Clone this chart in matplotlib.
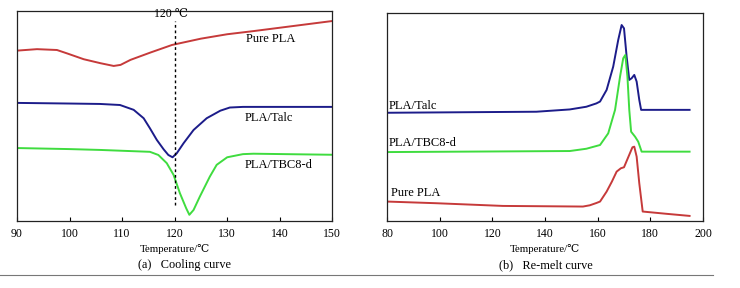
import numpy as np
import matplotlib.pyplot as plt
from matplotlib.lines import Line2D

plt.rcParams['font.family'] = ['Liberation Serif', 'DejaVu Serif', 'DejaVu Sans']

# (a) cooling curves
cool_pla_T = [90, 93.8, 97.6, 99.5, 102.7, 105.9, 108.4, 109.7, 111.6, 115.4, 119.5, 125, 130, 135, 140, 145, 150]
cool_pla_y = [81.1, 81.8, 81.4, 79.8, 77.0, 75.1, 73.8, 74.3, 76.7, 80.2, 83.8, 86.8, 88.9, 90.4, 92.0, 93.6, 95.2]

cool_talc_T = [90, 100, 105.8, 109.6, 112.2, 114.1, 115.3, 116.6, 117.9, 118.8, 119.6, 120.4, 121.7, 123.6, 126.1, 128.7, 130.5, 133, 150]
cool_talc_y = [56.2, 55.9, 55.7, 55.2, 52.9, 48.9, 44.1, 38.6, 34.1, 31.4, 30.3, 32.2, 37.0, 43.3, 48.9, 52.5, 54.0, 54.3, 54.3]

cool_tbc_T = [90, 100, 105.8, 115.3, 116.9, 118.5, 119.8, 121.0, 122.2, 122.8, 123.6, 124.8, 126.7, 128.0, 130, 133, 135, 150]
cool_tbc_y = [34.7, 34.2, 33.8, 32.9, 31.4, 27.5, 21.9, 13.2, 6.0, 2.9, 5.2, 11.6, 21.1, 26.7, 30.3, 31.8, 32.0, 31.5]

# (b) re-melt curves
melt_talc_T = [80, 136.7, 149.4, 155.7, 159.5, 160.9, 163.4, 165.9, 167.8, 169.1, 170.0, 171.0, 172.0, 172.9, 173.9, 174.8, 175.8, 176.5, 194.9]
melt_talc_y = [52.0, 52.5, 53.6, 54.9, 56.5, 57.4, 63.0, 74.2, 87.0, 94.2, 92.6, 79.0, 67.8, 68.6, 70.2, 67.0, 58.2, 53.4, 53.4]

melt_tbc_T = [80, 149.4, 155.7, 160.9, 164.0, 166.6, 168.5, 169.7, 170.5, 171.3, 172.0, 172.7, 174.2, 175.4, 176.7, 194.9]
melt_tbc_y = [33.1, 33.6, 34.7, 36.5, 42.1, 53.4, 69.4, 78.2, 79.8, 69.4, 53.4, 42.9, 40.5, 38.1, 33.3, 33.3]

melt_pla_T = [80, 98.7, 124.0, 154.4, 157.0, 159.5, 160.9, 163.4, 165.4, 167.2, 168.8, 170.0, 171.7, 173.2, 173.9, 174.8, 175.8, 177.1, 186.2, 194.9]
melt_pla_y = [9.3, 8.5, 7.2, 6.9, 7.5, 8.6, 9.3, 14.1, 18.9, 23.7, 25.3, 25.8, 30.9, 35.4, 35.7, 30.9, 18.1, 4.5, 3.4, 2.4]

red = '#c63a3a'
blue = '#1c1c8a'
green = '#3fdc3f'

fig = plt.figure(figsize=(7.4, 2.88), dpi=100)
ax1 = fig.add_axes([0.023, 0.233, 0.426, 0.729])
ax2 = fig.add_axes([0.523, 0.233, 0.427, 0.722])

ax1.plot(cool_pla_T, cool_pla_y, color=red, lw=1.4)
ax1.plot(cool_talc_T, cool_talc_y, color=blue, lw=1.4)
ax1.plot(cool_tbc_T, cool_tbc_y, color=green, lw=1.4)
ax1.plot([120, 120], [7.6, 95], color='black', lw=1.0, ls=(0, (2, 2)))
ax1.text(119.3, 98.5, '120 ℃', ha='center', va='center', fontsize=8.5)
ax1.text(133.6, 86.5, 'Pure PLA', va='center', fontsize=9)
ax1.text(133.4, 49, 'PLA/Talc', va='center', fontsize=9)
ax1.text(133.4, 26.8, 'PLA/TBC8-d', va='center', fontsize=9)
ax1.set_xlim(90, 150)
ax1.set_ylim(0, 100)
ax1.set_xticks([90, 100, 110, 120, 130, 140, 150])
ax1.set_xlabel('Temperature/℃', fontsize=7.8, labelpad=3)

ax2.plot(melt_talc_T, melt_talc_y, color=blue, lw=1.4)
ax2.plot(melt_tbc_T, melt_tbc_y, color=green, lw=1.4)
ax2.plot(melt_pla_T, melt_pla_y, color=red, lw=1.4)
ax2.text(80.6, 55.2, 'PLA/Talc', va='center', fontsize=9)
ax2.text(80.6, 37.3, 'PLA/TBC8-d', va='center', fontsize=9)
ax2.text(81.6, 13.6, 'Pure PLA', va='center', fontsize=9)
ax2.set_xlim(80, 200)
ax2.set_ylim(0, 100)
ax2.set_xticks([80, 100, 120, 140, 160, 180, 200])
ax2.set_xlabel('Temperature/℃', fontsize=7.8, labelpad=3)

for ax in (ax1, ax2):
    ax.set_yticks([])
    ax.tick_params(axis='x', direction='in', length=3, labelsize=8.5, pad=5)
    for s in ax.spines.values():
        s.set_linewidth(0.9)
        s.set_color('#222222')

fig.text(0.249, 0.08, '(a)   Cooling curve', ha='center', va='center', fontsize=8.8)
fig.text(0.737, 0.08, '(b)   Re-melt curve', ha='center', va='center', fontsize=8.8)
fig.add_artist(Line2D([0.0, 0.963], [0.045, 0.045], color='#777777', lw=0.8))

fig.savefig('out.png', dpi=100)
